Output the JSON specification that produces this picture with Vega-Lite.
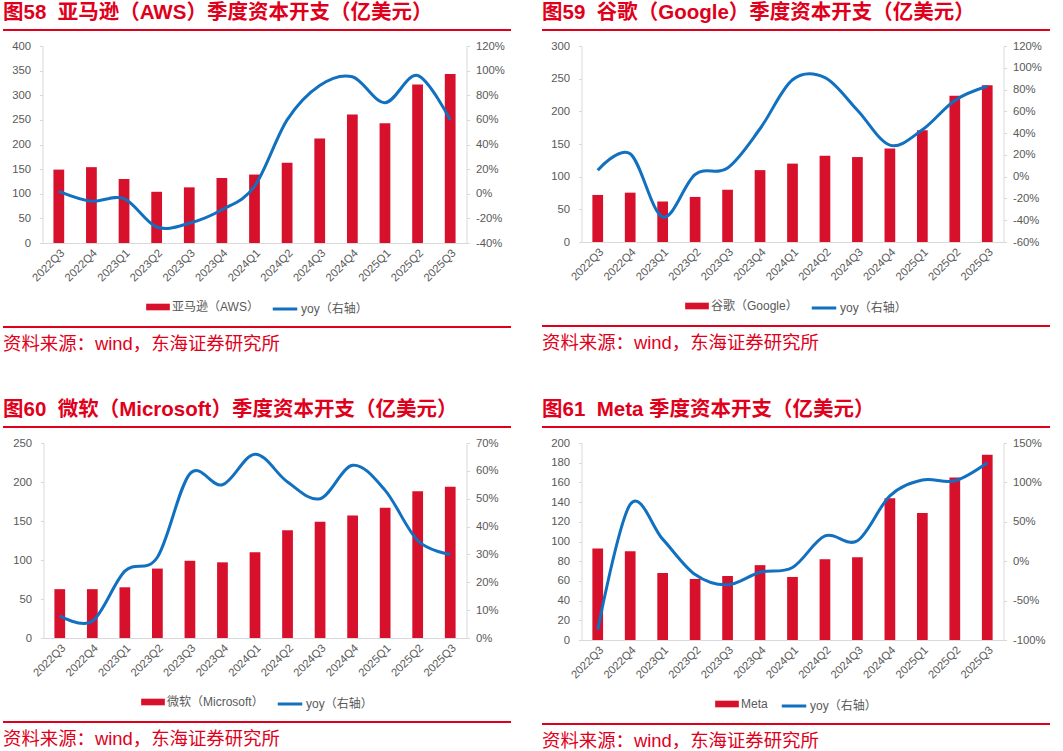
{
  "$schema": "https://vega.github.io/schema/vega-lite/v6.json",
  "background": "white",
  "padding": {"left": 3, "top": 2, "right": 5, "bottom": 0},
  "config": {
    "view": {"stroke": null},
    "axis": {"labelFont": "Liberation Sans", "labelFontSize": 11.3, "labelColor": "#595959", "domainColor": "#D9D9D9", "tickColor": "#D9D9D9", "grid": false, "title": null},
    "legend": {"orient": "bottom", "direction": "horizontal", "labelFont": "Liberation Sans, Noto Sans CJK SC", "labelFontSize": 12, "labelColor": "#595959", "padding": 2, "offset": 9, "labelOffset": 2, "labelLimit": 300, "layout": {"bottom": {"anchor": "middle", "margin": 8}}}
  },
  "datasets": {
    "aws": [
      {"q": "2022Q3", "capex": 149, "yoy": 2},
      {"q": "2022Q4", "capex": 154, "yoy": -6},
      {"q": "2023Q1", "capex": 130, "yoy": -4},
      {"q": "2023Q2", "capex": 104, "yoy": -27},
      {"q": "2023Q3", "capex": 113, "yoy": -24},
      {"q": "2023Q4", "capex": 132, "yoy": -13},
      {"q": "2024Q1", "capex": 139, "yoy": 6},
      {"q": "2024Q2", "capex": 163, "yoy": 60},
      {"q": "2024Q3", "capex": 212, "yoy": 88},
      {"q": "2024Q4", "capex": 261, "yoy": 95},
      {"q": "2025Q1", "capex": 243, "yoy": 74},
      {"q": "2025Q2", "capex": 322, "yoy": 96},
      {"q": "2025Q3", "capex": 343, "yoy": 60}
    ],
    "google": [
      {"q": "2022Q3", "capex": 72, "yoy": 6},
      {"q": "2022Q4", "capex": 75.5, "yoy": 21},
      {"q": "2023Q1", "capex": 62, "yoy": -37},
      {"q": "2023Q2", "capex": 69, "yoy": 2},
      {"q": "2023Q3", "capex": 80, "yoy": 8},
      {"q": "2023Q4", "capex": 110, "yoy": 44},
      {"q": "2024Q1", "capex": 120, "yoy": 89},
      {"q": "2024Q2", "capex": 132, "yoy": 91},
      {"q": "2024Q3", "capex": 130, "yoy": 61},
      {"q": "2024Q4", "capex": 143, "yoy": 29},
      {"q": "2025Q1", "capex": 171, "yoy": 43},
      {"q": "2025Q2", "capex": 224, "yoy": 70},
      {"q": "2025Q3", "capex": 240, "yoy": 83}
    ],
    "msft": [
      {"q": "2022Q3", "capex": 62.6, "yoy": 8},
      {"q": "2022Q4", "capex": 62.6, "yoy": 6},
      {"q": "2023Q1", "capex": 65, "yoy": 24},
      {"q": "2023Q2", "capex": 89, "yoy": 29},
      {"q": "2023Q3", "capex": 99, "yoy": 59},
      {"q": "2023Q4", "capex": 97, "yoy": 55},
      {"q": "2024Q1", "capex": 110, "yoy": 66},
      {"q": "2024Q2", "capex": 138, "yoy": 56},
      {"q": "2024Q3", "capex": 149, "yoy": 50},
      {"q": "2024Q4", "capex": 157, "yoy": 62},
      {"q": "2025Q1", "capex": 167, "yoy": 53},
      {"q": "2025Q2", "capex": 188, "yoy": 35},
      {"q": "2025Q3", "capex": 194, "yoy": 30}
    ],
    "meta": [
      {"q": "2022Q3", "capex": 93, "yoy": -87},
      {"q": "2022Q4", "capex": 90, "yoy": 72},
      {"q": "2023Q1", "capex": 68, "yoy": 28},
      {"q": "2023Q2", "capex": 62, "yoy": -17},
      {"q": "2023Q3", "capex": 65, "yoy": -30},
      {"q": "2023Q4", "capex": 76, "yoy": -14},
      {"q": "2024Q1", "capex": 64, "yoy": -8},
      {"q": "2024Q2", "capex": 82, "yoy": 32},
      {"q": "2024Q3", "capex": 84, "yoy": 26},
      {"q": "2024Q4", "capex": 144, "yoy": 83},
      {"q": "2025Q1", "capex": 129, "yoy": 103},
      {"q": "2025Q2", "capex": 165, "yoy": 102},
      {"q": "2025Q3", "capex": 188, "yoy": 125}
    ]
  },
  "vconcat": [
    {
      "hconcat": [
        {
          "vconcat": [
            {"width": 508, "height": 2, "data": {"values": []}, "mark": "rule", "encoding": {}, "view": {"fill": "#E0001B", "stroke": null},
             "title": {"text": "图58\u00a0\u00a0亚马逊（AWS）季度资本开支（亿美元）", "anchor": "start", "font": "Liberation Sans, Noto Sans CJK SC", "fontSize": 20.5, "fontWeight": "bold", "color": "#E0001B", "offset": 6}},
            {
              "width": 508, "height": 197,
              "data": {"name": "aws"},
              "encoding": {"x": {"field": "q", "type": "ordinal", "sort": null, "scale": {"range": [39.5, 463.5], "paddingInner": 0.67, "paddingOuter": 0.335}, "axis": {"title": null, "labelAngle": -45, "ticks": false, "labelPadding": 4}}},
              "layer": [
                {"mark": {"type": "bar", "color": "#D7102B"},
                 "encoding": {
                   "y": {"field": "capex", "type": "quantitative", "scale": {"domain": [0, 400], "nice": false}, "axis": {"orient": "left", "offset": -39.5, "title": null, "values": [0, 50, 100, 150, 200, 250, 300, 350, 400], "tickSize": 3, "labelPadding": 9}},
                   "fill": {"datum": "亚马逊（AWS）", "scale": {"range": ["#D7102B"]}, "legend": {"title": null, "symbolType": "M-1,-0.28H1V0.28H-1Z", "symbolSize": 560, "symbolStrokeWidth": 0}}
                 }},
                {"mark": {"type": "line", "interpolate": "cardinal", "strokeWidth": 3, "color": "#1170BF"},
                 "encoding": {
                   "y": {"field": "yoy", "type": "quantitative", "scale": {"domain": [-40, 120], "nice": false}, "axis": {"orient": "right", "offset": -44.5, "title": null, "values": [-40, -20, 0, 20, 40, 60, 80, 100, 120], "labelExpr": "datum.value + '%'", "tickSize": 3, "labelPadding": 6}},
                   "stroke": {"datum": "yoy（右轴）", "scale": {"range": ["#1170BF"]}, "legend": {"title": null, "symbolType": "stroke", "symbolSize": 600, "symbolStrokeWidth": 3}}
                 }}
              ],
              "resolve": {"scale": {"y": "independent"}}
            },
            {"width": 508, "height": 2, "data": {"values": []}, "mark": "rule", "encoding": {}, "view": {"fill": "#E0001B", "stroke": null},
             "title": {"text": "资料来源：wind，东海证券研究所", "orient": "bottom", "anchor": "start", "font": "Liberation Sans, Noto Sans CJK SC", "fontSize": 18.4, "fontWeight": "normal", "color": "#E0001B", "offset": 7}}
          ],
          "spacing": 9,
          "resolve": {"scale": {"fill": "independent", "stroke": "independent"}, "legend": {"fill": "independent", "stroke": "independent"}}
        },
        {
          "vconcat": [
            {"width": 508, "height": 2, "data": {"values": []}, "mark": "rule", "encoding": {}, "view": {"fill": "#E0001B", "stroke": null},
             "title": {"text": "图59\u00a0\u00a0谷歌（Google）季度资本开支（亿美元）", "anchor": "start", "font": "Liberation Sans, Noto Sans CJK SC", "fontSize": 20.5, "fontWeight": "bold", "color": "#E0001B", "offset": 6}},
            {
              "width": 508, "height": 196,
              "data": {"name": "google"},
              "encoding": {"x": {"field": "q", "type": "ordinal", "sort": null, "scale": {"range": [39.5, 461.5], "paddingInner": 0.67, "paddingOuter": 0.335}, "axis": {"title": null, "labelAngle": -45, "ticks": false, "labelPadding": 4}}},
              "layer": [
                {"mark": {"type": "bar", "color": "#D7102B"},
                 "encoding": {
                   "y": {"field": "capex", "type": "quantitative", "scale": {"domain": [0, 300], "nice": false}, "axis": {"orient": "left", "offset": -39.5, "title": null, "values": [0, 50, 100, 150, 200, 250, 300], "tickSize": 3, "labelPadding": 9}},
                   "fill": {"datum": "谷歌（Google）", "scale": {"range": ["#D7102B"]}, "legend": {"title": null, "symbolType": "M-1,-0.28H1V0.28H-1Z", "symbolSize": 560, "symbolStrokeWidth": 0}}
                 }},
                {"mark": {"type": "line", "interpolate": "cardinal", "strokeWidth": 3, "color": "#1170BF"},
                 "encoding": {
                   "y": {"field": "yoy", "type": "quantitative", "scale": {"domain": [-60, 120], "nice": false}, "axis": {"orient": "right", "offset": -46.5, "title": null, "values": [-60, -40, -20, 0, 20, 40, 60, 80, 100, 120], "labelExpr": "datum.value + '%'", "tickSize": 3, "labelPadding": 6}},
                   "stroke": {"datum": "yoy（右轴）", "scale": {"range": ["#1170BF"]}, "legend": {"title": null, "symbolType": "stroke", "symbolSize": 600, "symbolStrokeWidth": 3}}
                 }}
              ],
              "resolve": {"scale": {"y": "independent"}}
            },
            {"width": 508, "height": 2, "data": {"values": []}, "mark": "rule", "encoding": {}, "view": {"fill": "#E0001B", "stroke": null},
             "title": {"text": "资料来源：wind，东海证券研究所", "orient": "bottom", "anchor": "start", "font": "Liberation Sans, Noto Sans CJK SC", "fontSize": 18.4, "fontWeight": "normal", "color": "#E0001B", "offset": 7}}
          ],
          "spacing": 9,
          "resolve": {"scale": {"fill": "independent", "stroke": "independent"}, "legend": {"fill": "independent", "stroke": "independent"}}
        }
      ],
      "spacing": 31,
      "resolve": {"scale": {"fill": "independent", "stroke": "independent"}, "legend": {"fill": "independent", "stroke": "independent"}}
    },
    {
      "hconcat": [
        {
          "vconcat": [
            {"width": 508, "height": 2, "data": {"values": []}, "mark": "rule", "encoding": {}, "view": {"fill": "#E0001B", "stroke": null},
             "title": {"text": "图60\u00a0\u00a0微软（Microsoft）季度资本开支（亿美元）", "anchor": "start", "font": "Liberation Sans, Noto Sans CJK SC", "fontSize": 20.5, "fontWeight": "bold", "color": "#E0001B", "offset": 6}},
            {
              "width": 508, "height": 195,
              "data": {"name": "msft"},
              "encoding": {"x": {"field": "q", "type": "ordinal", "sort": null, "scale": {"range": [40.5, 463.5], "paddingInner": 0.67, "paddingOuter": 0.335}, "axis": {"title": null, "labelAngle": -45, "ticks": false, "labelPadding": 4}}},
              "layer": [
                {"mark": {"type": "bar", "color": "#D7102B"},
                 "encoding": {
                   "y": {"field": "capex", "type": "quantitative", "scale": {"domain": [0, 250], "nice": false}, "axis": {"orient": "left", "offset": -40.5, "title": null, "values": [0, 50, 100, 150, 200, 250], "tickSize": 3, "labelPadding": 9}},
                   "fill": {"datum": "微软（Microsoft）", "scale": {"range": ["#D7102B"]}, "legend": {"title": null, "symbolType": "M-1,-0.28H1V0.28H-1Z", "symbolSize": 560, "symbolStrokeWidth": 0}}
                 }},
                {"mark": {"type": "line", "interpolate": "cardinal", "strokeWidth": 3, "color": "#1170BF"},
                 "encoding": {
                   "y": {"field": "yoy", "type": "quantitative", "scale": {"domain": [0, 70], "nice": false}, "axis": {"orient": "right", "offset": -44.5, "title": null, "values": [0, 10, 20, 30, 40, 50, 60, 70], "labelExpr": "datum.value + '%'", "tickSize": 3, "labelPadding": 6}},
                   "stroke": {"datum": "yoy（右轴）", "scale": {"range": ["#1170BF"]}, "legend": {"title": null, "symbolType": "stroke", "symbolSize": 600, "symbolStrokeWidth": 3}}
                 }}
              ],
              "resolve": {"scale": {"y": "independent"}}
            },
            {"width": 508, "height": 2, "data": {"values": []}, "mark": "rule", "encoding": {}, "view": {"fill": "#E0001B", "stroke": null},
             "title": {"text": "资料来源：wind，东海证券研究所", "orient": "bottom", "anchor": "start", "font": "Liberation Sans, Noto Sans CJK SC", "fontSize": 18.4, "fontWeight": "normal", "color": "#E0001B", "offset": 7}}
          ],
          "spacing": 9,
          "resolve": {"scale": {"fill": "independent", "stroke": "independent"}, "legend": {"fill": "independent", "stroke": "independent"}}
        },
        {
          "vconcat": [
            {"width": 508, "height": 2, "data": {"values": []}, "mark": "rule", "encoding": {}, "view": {"fill": "#E0001B", "stroke": null},
             "title": {"text": "图61\u00a0\u00a0Meta 季度资本开支（亿美元）", "anchor": "start", "font": "Liberation Sans, Noto Sans CJK SC", "fontSize": 20.5, "fontWeight": "bold", "color": "#E0001B", "offset": 6}},
            {
              "width": 508, "height": 197,
              "data": {"name": "meta"},
              "encoding": {"x": {"field": "q", "type": "ordinal", "sort": null, "scale": {"range": [39.5, 461.5], "paddingInner": 0.67, "paddingOuter": 0.335}, "axis": {"title": null, "labelAngle": -45, "ticks": false, "labelPadding": 4}}},
              "layer": [
                {"mark": {"type": "bar", "color": "#D7102B"},
                 "encoding": {
                   "y": {"field": "capex", "type": "quantitative", "scale": {"domain": [0, 200], "nice": false}, "axis": {"orient": "left", "offset": -39.5, "title": null, "values": [0, 20, 40, 60, 80, 100, 120, 140, 160, 180, 200], "tickSize": 3, "labelPadding": 9}},
                   "fill": {"datum": "Meta", "scale": {"range": ["#D7102B"]}, "legend": {"title": null, "symbolType": "M-1,-0.28H1V0.28H-1Z", "symbolSize": 560, "symbolStrokeWidth": 0}}
                 }},
                {"mark": {"type": "line", "interpolate": "cardinal", "strokeWidth": 3, "color": "#1170BF"},
                 "encoding": {
                   "y": {"field": "yoy", "type": "quantitative", "scale": {"domain": [-100, 150], "nice": false}, "axis": {"orient": "right", "offset": -46.5, "title": null, "values": [-100, -50, 0, 50, 100, 150], "labelExpr": "datum.value + '%'", "tickSize": 3, "labelPadding": 6}},
                   "stroke": {"datum": "yoy（右轴）", "scale": {"range": ["#1170BF"]}, "legend": {"title": null, "symbolType": "stroke", "symbolSize": 600, "symbolStrokeWidth": 3}}
                 }}
              ],
              "resolve": {"scale": {"y": "independent"}}
            },
            {"width": 508, "height": 2, "data": {"values": []}, "mark": "rule", "encoding": {}, "view": {"fill": "#E0001B", "stroke": null},
             "title": {"text": "资料来源：wind，东海证券研究所", "orient": "bottom", "anchor": "start", "font": "Liberation Sans, Noto Sans CJK SC", "fontSize": 18.4, "fontWeight": "normal", "color": "#E0001B", "offset": 7}}
          ],
          "spacing": 9,
          "resolve": {"scale": {"fill": "independent", "stroke": "independent"}, "legend": {"fill": "independent", "stroke": "independent"}}
        }
      ],
      "spacing": 31,
      "resolve": {"scale": {"fill": "independent", "stroke": "independent"}, "legend": {"fill": "independent", "stroke": "independent"}}
    }
  ],
  "spacing": 45,
  "resolve": {"scale": {"fill": "independent", "stroke": "independent"}, "legend": {"fill": "independent", "stroke": "independent"}}
}
